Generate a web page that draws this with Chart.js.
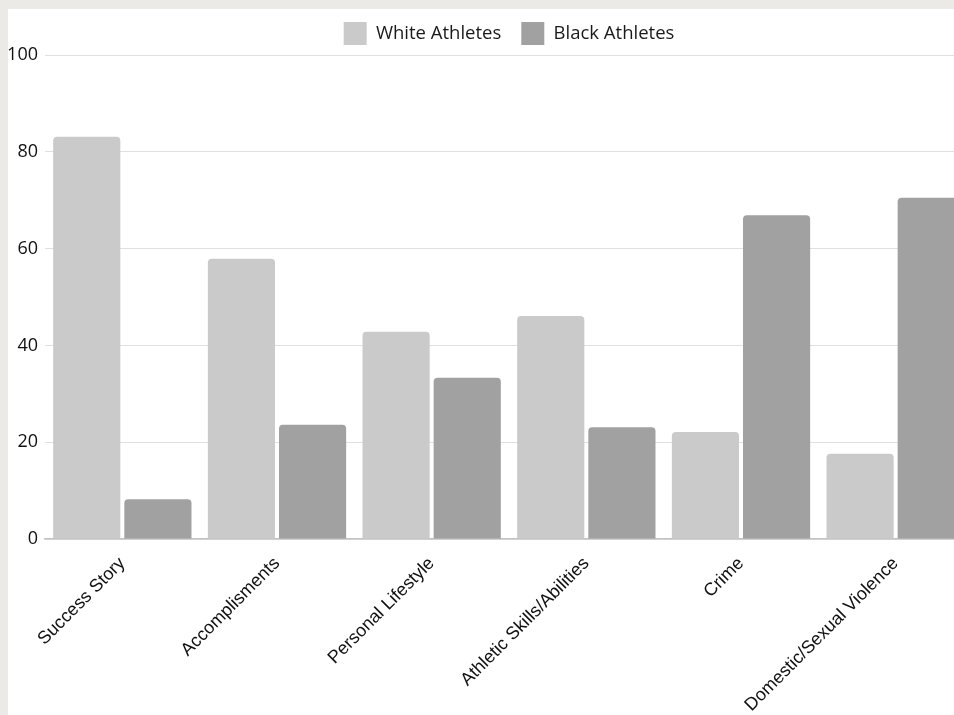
<!DOCTYPE html>
<html>
<head>
<meta charset="utf-8">
<script src="https://cdn.jsdelivr.net/npm/chart.js@4.4.1/dist/chart.umd.min.js"></script>
<style>
  html, body { margin: 0; padding: 0; background: #ebeae6; overflow: hidden; width: 954px; height: 715px; }
  #panel { position: absolute; left: 8px; top: 9px; width: 1000px; height: 706px; background: #ffffff; }
  #chart { position: absolute; left: 0; top: 0; }
</style>
</head>
<body>
<div id="panel"><canvas id="chart" width="965" height="706"></canvas></div>
<script>
const categories = [
  'Success Story',
  'Accomplisments',
  'Personal Lifestyle',
  'Athletic Skills/Abilities',
  'Crime',
  'Domestic/Sexual Violence'
];
const whiteAthletes = [83.1, 57.9, 42.8, 46.1, 22.1, 17.6];
const blackAthletes = [8.2, 23.6, 33.3, 23.1, 66.9, 70.5];
const yTicks = [0, 20, 40, 60, 80, 100];

const barShape = {
  borderRadius: { topLeft: 4, topRight: 4, bottomLeft: 0, bottomRight: 0 },
  borderSkipped: 'start',
  categoryPercentage: 0.92,
  barPercentage: 0.944
};

new Chart(document.getElementById('chart'), {
  type: 'bar',
  data: {
    labels: categories,
    datasets: [
      Object.assign({ label: 'White Athletes', data: whiteAthletes, backgroundColor: '#cacaca' }, barShape),
      Object.assign({ label: 'Black Athletes', data: blackAthletes, backgroundColor: '#a1a1a1' }, barShape)
    ]
  },
  options: {
    responsive: false,
    animation: false,
    layout: { padding: { top: -7, left: 0, right: 0, bottom: 0 } },
    plugins: {
      legend: {
        position: 'top',
        fullSize: false,
        labels: {
          boxWidth: 23,
          boxHeight: 23,
          padding: 20,
          color: '#1a1a1a',
          font: { family: 'Open Sans', size: 18.5 }
        }
      },
      tooltip: { enabled: false }
    },
    scales: {
      x: {
        offset: true,
        grid: { display: false, drawTicks: false },
        border: { display: true, color: '#c2c2c2', width: 1.5 },
        ticks: {
          maxRotation: 45,
          minRotation: 45,
          padding: 14,
          color: '#111111',
          font: { family: 'Liberation Sans', size: 18 }
        },
        afterFit(scale) { scale.height = 176; }
      },
      y: {
        min: 0,
        max: 100,
        afterBuildTicks(scale) { scale.ticks = yTicks.map(v => ({ value: v })); },
        grid: { color: '#e0e0e0', lineWidth: 1, drawTicks: false },
        border: { display: false },
        ticks: {
          padding: 7,
          color: '#111111',
          font: { family: 'Open Sans', size: 18 }
        },
        afterFit(scale) { scale.width = 37; }
      }
    }
  }
});
</script>
</body>
</html>
